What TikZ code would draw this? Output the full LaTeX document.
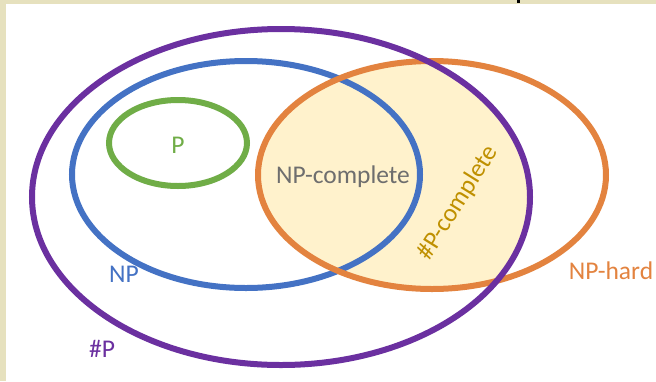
\documentclass[tikz,border=0pt]{standalone}
\usepackage{fontspec}
\setmainfont{Carlito}
\definecolor{beige}{HTML}{E6E1BE}
\definecolor{cpurple}{HTML}{6B30A0}
\definecolor{cblue}{HTML}{4472C4}
\definecolor{cgreen}{HTML}{70AD47}
\definecolor{corange}{HTML}{E3833F}
\definecolor{cfill}{HTML}{FFF2CC}
\definecolor{cgray}{HTML}{6E6E6E}
\definecolor{cgold}{HTML}{BF9000}
\begin{document}
\begin{tikzpicture}[x=1pt,y=-1pt,
  setline/.style={line width=6pt},
  lbl/.style={font=\fontsize{25.5}{30}\selectfont, inner sep=0pt}]
\useasboundingbox (0,0) rectangle (656,381);
\fill[beige] (0,0) rectangle (656,381);
\fill[white] (6,4) rectangle (656,381);
\fill[black] (517,0) rectangle (520,3);
% fill: NP-hard inside #P
\begin{scope}
  \clip (281,197) ellipse [x radius=249, y radius=168];
  \fill[cfill] (432,175) ellipse [x radius=174, y radius=114];
\end{scope}
\draw[setline, cgreen] (178,143) ellipse [x radius=69, y radius=43];
\draw[setline, cblue] (246,174.5) ellipse [x radius=174, y radius=113.5];
\draw[setline, corange] (432,175) ellipse [x radius=174, y radius=114];
\draw[setline, cpurple] (281,197) ellipse [x radius=249, y radius=168];
\node[lbl, text=cgreen] (p) at (178,145) {P};
\node[lbl, text=cblue] (np) at (124,274) {NP};
\node[lbl, text=cpurple] (sharpp) at (102,349) {\#P};
\node[lbl, text=corange] (nphard) at (611,271) {NP-hard};
\node[lbl, text=cgray] (npc) at (343,177) {NP-complete};
\node[lbl, text=cgold, rotate=58] (spc) at (458,203) {\#P-complete};
\end{tikzpicture}
\end{document}
